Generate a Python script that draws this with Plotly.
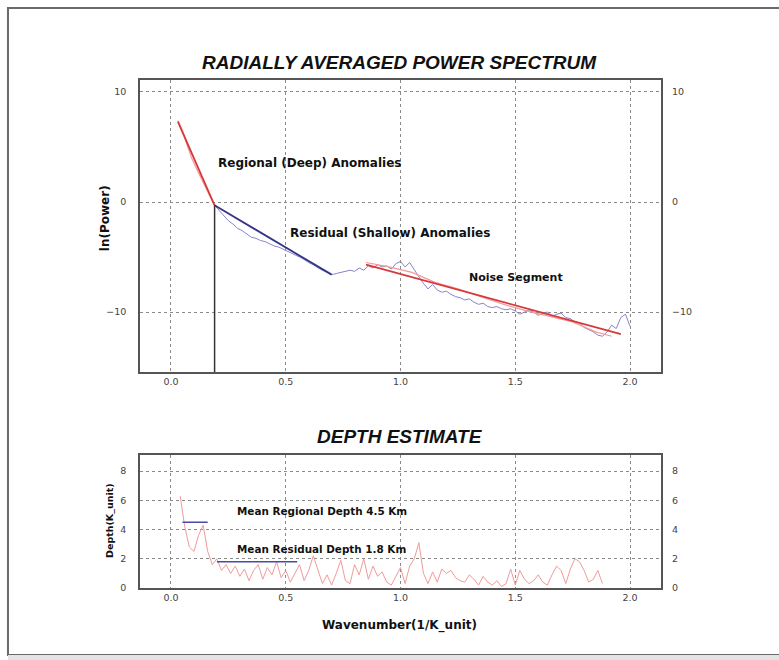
import plotly.graph_objects as go

# ---- Radially averaged power spectrum ----
wavenumber = [0.03, 0.05, 0.07, 0.09, 0.11, 0.13, 0.15, 0.17, 0.19,
              0.21, 0.23, 0.25, 0.27, 0.29, 0.31, 0.33, 0.35, 0.37, 0.39,
              0.41, 0.43, 0.45, 0.47, 0.50, 0.52, 0.55, 0.57, 0.60, 0.62,
              0.65, 0.67, 0.70, 0.72, 0.74, 0.76, 0.78, 0.80, 0.82, 0.84,
              0.86, 0.88, 0.90, 0.92, 0.94, 0.96, 0.98, 1.00, 1.02, 1.04,
              1.06, 1.08, 1.10, 1.12, 1.14, 1.16, 1.18, 1.20, 1.22, 1.24,
              1.26, 1.28, 1.30, 1.32, 1.34, 1.36, 1.38, 1.40, 1.42, 1.44,
              1.46, 1.48, 1.50, 1.52, 1.54, 1.56, 1.58, 1.60, 1.62, 1.64,
              1.66, 1.68, 1.70, 1.72, 1.74, 1.76, 1.78, 1.80, 1.82, 1.84,
              1.86, 1.88, 1.90, 1.92, 1.94, 1.96, 1.98, 2.00]
ln_power = [7.4, 6.5, 5.2, 4.0, 3.1, 2.2, 1.3, 0.5, -0.3,
            -0.8, -1.3, -1.7, -2.0, -2.4, -2.6, -2.9, -3.2, -3.3, -3.5,
            -3.6, -3.8, -4.0, -4.1, -4.4, -4.6, -4.9, -5.1, -5.5, -5.7,
            -6.1, -6.3, -6.6, -6.5, -6.4, -6.3, -6.2, -6.3, -6.0, -6.2,
            -5.8, -6.0, -5.7, -5.9, -5.8, -6.1, -5.6, -5.4, -5.9, -5.5,
            -6.2, -6.8, -7.4, -7.9, -7.5, -8.0, -8.2, -8.1, -8.4, -8.6,
            -8.7, -8.9, -8.8, -9.1, -9.3, -9.2, -9.5, -9.6, -9.5, -9.7,
            -9.8, -9.7, -9.9, -10.2, -10.0, -9.8, -10.0, -10.3, -10.1, -10.0,
            -10.4, -10.2, -10.1, -10.5, -10.6, -10.9, -11.0, -11.4, -11.6, -11.8,
            -12.1, -12.2, -11.8, -11.2, -11.5, -10.5, -10.2, -11.3]

# smoothed spectrum over the noise segment
noise_smooth_k = [0.85, 0.95, 1.05, 1.15, 1.25, 1.35, 1.45, 1.55, 1.65, 1.75, 1.85, 1.92]
noise_smooth_p = [-5.5, -5.9, -6.4, -7.3, -7.9, -8.6, -9.3, -9.9, -10.4, -10.9, -11.8, -12.2]

# straight-line fits for the three segments
regional_fit_k = [0.03, 0.19]
regional_fit_p = [7.3, -0.3]
residual_fit_k = [0.19, 0.70]
residual_fit_p = [-0.3, -6.6]
noise_fit_k = [0.85, 1.96]
noise_fit_p = [-5.7, -12.0]

# break between regional and residual segments
break_k = 0.19
break_p = -0.3

# ---- Depth estimate ----
depth_k = [0.04, 0.06, 0.08, 0.10, 0.12, 0.14, 0.16, 0.18, 0.20, 0.22,
           0.24, 0.26, 0.28, 0.30, 0.32, 0.34, 0.36, 0.38, 0.40, 0.42,
           0.44, 0.46, 0.48, 0.50, 0.52, 0.54, 0.56, 0.58, 0.60, 0.62,
           0.64, 0.66, 0.68, 0.70, 0.72, 0.74, 0.76, 0.78, 0.80, 0.82,
           0.84, 0.86, 0.88, 0.90, 0.92, 0.94, 0.96, 0.98, 1.00, 1.02,
           1.04, 1.06, 1.08, 1.10, 1.12, 1.14, 1.16, 1.18, 1.20, 1.22,
           1.24, 1.26, 1.28, 1.30, 1.32, 1.34, 1.36, 1.38, 1.40, 1.42,
           1.44, 1.46, 1.48, 1.50, 1.52, 1.54, 1.56, 1.58, 1.60, 1.62,
           1.64, 1.66, 1.68, 1.70, 1.72, 1.74, 1.76, 1.78, 1.80, 1.82,
           1.84, 1.86, 1.88]
depth_km = [6.3, 4.2, 2.8, 2.5, 3.6, 4.3, 2.5, 1.6, 2.0, 1.2,
            1.6, 1.0, 1.5, 0.8, 1.3, 0.5, 1.2, 1.6, 0.6, 1.4,
            0.9, 1.8, 0.7, 1.2, 0.4, 1.0, 1.6, 0.5, 1.2, 2.2,
            1.3, 0.3, 0.9, 0.2, 1.0, 1.9, 0.5, 0.3, 1.6, 0.9,
            2.0, 0.6, 1.5, 0.8, 1.1, 0.4, 0.2, 0.8, 1.4, 0.3,
            1.5, 2.0, 3.1, 1.0, 0.3, 1.1, 0.4, 1.3, 1.0, 1.2,
            0.7, 0.5, 0.4, 0.9, 0.6, 0.2, 0.8, 0.4, 0.2, 0.5,
            0.1, 0.3, 1.3, 0.2, 1.2, 0.6, 0.3, 0.5, 0.9, 0.4,
            0.2, 0.9, 1.5, 1.2, 0.3, 1.3, 2.0, 1.8, 1.2, 0.4,
            0.6, 1.2, 0.3]

mean_regional_depth = 4.5
mean_regional_k = [0.05, 0.16]
mean_residual_depth = 1.8
mean_residual_k = [0.20, 0.55]

x_ticks = [0.0, 0.5, 1.0, 1.5, 2.0]
power_ticks = [-10, 0, 10]
depth_ticks = [0, 2, 4, 6, 8]

x_range = [-0.135, 2.135]
power_range = [-15.45, 11.09]
depth_range = [0, 9.1]

FONT = "DejaVu Sans"
RED = "#d83838"
NAVY = "#353588"
LAVENDER = "#8585cc"
PINK = "#f29a9a"

# split the spectrum at the regional/residual break
n_regional = wavenumber.index(break_k) + 1

fig = go.Figure()

# spectrum panel
fig.add_trace(go.Scatter(x=wavenumber[:n_regional], y=ln_power[:n_regional], mode="lines",
                         line=dict(color=PINK, width=1.2), xaxis="x", yaxis="y"))
fig.add_trace(go.Scatter(x=wavenumber[n_regional - 1:], y=ln_power[n_regional - 1:],
                         mode="lines", line=dict(color=LAVENDER, width=1),
                         xaxis="x", yaxis="y"))
fig.add_trace(go.Scatter(x=noise_smooth_k, y=noise_smooth_p, mode="lines",
                         line=dict(color=PINK, width=1.2), xaxis="x", yaxis="y"))
fig.add_trace(go.Scatter(x=regional_fit_k, y=regional_fit_p, mode="lines",
                         line=dict(color=RED, width=1.8), xaxis="x", yaxis="y"))
fig.add_trace(go.Scatter(x=residual_fit_k, y=residual_fit_p, mode="lines",
                         line=dict(color=NAVY, width=1.8), xaxis="x", yaxis="y"))
fig.add_trace(go.Scatter(x=noise_fit_k, y=noise_fit_p, mode="lines",
                         line=dict(color=RED, width=1.8), xaxis="x", yaxis="y"))
fig.add_trace(go.Scatter(x=[break_k, break_k], y=[break_p, power_range[0]], mode="lines",
                         line=dict(color="#333333", width=1.5), xaxis="x", yaxis="y"))
# right-hand axis of the spectrum panel
fig.add_trace(go.Scatter(x=wavenumber, y=ln_power, mode="lines", opacity=0,
                         hoverinfo="skip", xaxis="x", yaxis="y3"))

# depth panel
fig.add_trace(go.Scatter(x=depth_k, y=depth_km, mode="lines",
                         line=dict(color=PINK, width=1), xaxis="x2", yaxis="y2"))
fig.add_trace(go.Scatter(x=mean_regional_k, y=[mean_regional_depth] * 2, mode="lines",
                         line=dict(color="#4a4aa8", width=1.5), xaxis="x2", yaxis="y2"))
fig.add_trace(go.Scatter(x=mean_residual_k, y=[mean_residual_depth] * 2, mode="lines",
                         line=dict(color="#4a4aa8", width=1.5), xaxis="x2", yaxis="y2"))
fig.add_trace(go.Scatter(x=depth_k, y=depth_km, mode="lines", opacity=0,
                         hoverinfo="skip", xaxis="x2", yaxis="y4"))

tick_font = dict(family=FONT, size=9.5, color="#444444")
grid_style = dict(showgrid=True, gridcolor="#8a8a8a", griddash="dot", gridwidth=1,
                  zeroline=False, showline=True, linecolor="#555555", linewidth=1.5,
                  mirror=True, ticks="", tickfont=tick_font)

x_common = dict(range=x_range, tickvals=x_ticks, tickformat=".1f", **grid_style)

fig.update_layout(
    width=779, height=660,
    margin=dict(l=140, r=118, t=80, b=72),
    paper_bgcolor="white", plot_bgcolor="white",
    showlegend=False,
    xaxis=dict(domain=[0, 1], anchor="y", **x_common),
    yaxis=dict(domain=[0.4252, 1], anchor="x", range=power_range,
               tickvals=power_ticks, ticklabelstandoff=10, **grid_style),
    yaxis3=dict(overlaying="y", side="right", anchor="x", range=power_range,
                tickvals=power_ticks, showgrid=False, zeroline=False,
                showline=False, ticks="", tickfont=tick_font, ticklabelstandoff=10),
    xaxis2=dict(domain=[0, 1], anchor="y2", **x_common),
    yaxis2=dict(domain=[0, 0.2618], anchor="x2", range=depth_range,
                tickvals=depth_ticks, ticklabelstandoff=10, **grid_style),
    yaxis4=dict(overlaying="y2", side="right", anchor="x2", range=depth_range,
                tickvals=depth_ticks, showgrid=False, zeroline=False,
                showline=False, ticks="", tickfont=tick_font, ticklabelstandoff=10),
)

title_font = dict(family="Liberation Sans", size=19, color="#111111")
label_font = dict(family=FONT, size=12, color="#111111")
small_font = dict(family=FONT, size=10.4, color="#111111")


def paper_text(text, x, y, font, angle=0):
    return dict(text=text, xref="paper", yref="paper", x=x, y=y, textangle=angle,
                xanchor="center", yanchor="middle", showarrow=False, font=font)


annotations = [
    paper_text("<b><i>RADIALLY AVERAGED POWER SPECTRUM</i></b>", 0.499, 1.0354, title_font),
    paper_text("<b><i>DEPTH ESTIMATE</i></b>", 0.499, 0.2992, title_font),
    paper_text("<b>ln(Power)</b>", -0.0672, 0.728,
               dict(family=FONT, size=12, color="#111111"), -90),
    paper_text("<b>Depth(K_unit)</b>", -0.0576, 0.134,
               dict(family=FONT, size=9.5, color="#111111"), -90),
    paper_text("<b>Wavenumber(1/K_unit)</b>", 0.499, -0.0748,
               dict(family=FONT, size=12, color="#111111")),
    dict(text="<b>Regional (Deep) Anomalies</b>", xref="x", yref="y", x=0.197, y=3.55,
         xanchor="left", yanchor="middle", showarrow=False, font=label_font),
    dict(text="<b>Residual (Shallow) Anomalies</b>", xref="x", yref="y", x=0.51, y=-2.8,
         xanchor="left", yanchor="middle", showarrow=False, font=label_font),
    dict(text="<b>Noise Segment</b>", xref="x", yref="y", x=1.29, y=-6.9,
         xanchor="left", yanchor="middle", showarrow=False,
         font=dict(family=FONT, size=11, color="#111111")),
    dict(text=f"<b>Mean Regional Depth {mean_regional_depth} Km</b>", xref="x2", yref="y2",
         x=0.28, y=5.3, xanchor="left", yanchor="middle", showarrow=False, font=small_font),
    dict(text=f"<b>Mean Residual Depth {mean_residual_depth} Km</b>", xref="x2", yref="y2",
         x=0.28, y=2.65, xanchor="left", yanchor="middle", showarrow=False, font=small_font),
]
fig.update_layout(annotations=annotations)

# page frame around the whole chart
fig.add_shape(type="rect", xref="paper", yref="paper",
              x0=-0.2534, x1=1.26, y0=-0.1319, y1=1.1417,
              line=dict(color="#6a6a6a", width=2), fillcolor="rgba(0,0,0,0)", layer="below")
fig.add_shape(type="rect", xref="paper", yref="paper",
              x0=-0.2534, x1=1.26, y0=-0.16, y1=-0.1319,
              line=dict(width=0), fillcolor="#e4e4e4", layer="below")

fig.write_html("out.html")
